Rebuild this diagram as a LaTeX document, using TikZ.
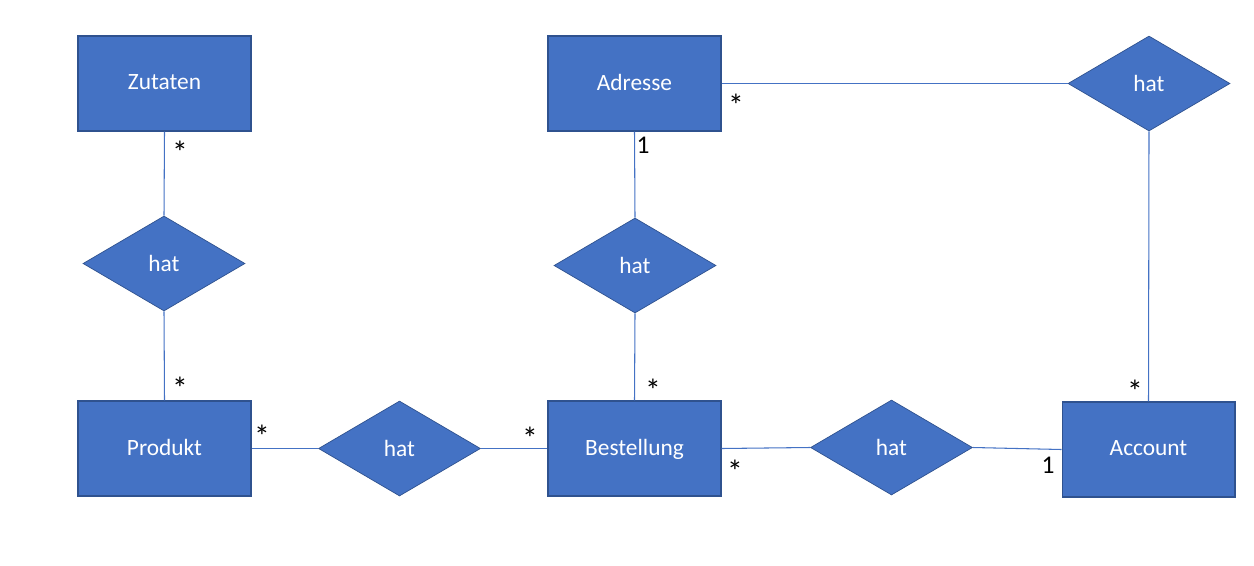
\documentclass[tikz,border=0pt]{standalone}
\usepackage{fontspec}
\setmainfont{Carlito}
\usepackage{xcolor}
\usetikzlibrary{shapes.geometric,positioning}
\definecolor{erblue}{HTML}{4472C4}
\definecolor{erborder}{HTML}{2F528F}
\tikzset{
  entity/.style={draw=erborder,fill=erblue,text=white,line width=0.6pt,minimum width=3.46cm,minimum height=1.9cm,inner sep=0pt,text depth=0.25ex,font=\fontsize{13.3}{15}\selectfont},
  relation/.style={diamond,draw=erborder,fill=erblue,text=white,line width=0.4pt,minimum width=3.24cm,minimum height=1.9cm,inner sep=0pt,font=\fontsize{13.3}{15}\selectfont},
  link/.style={draw=erblue,line width=0.6pt},
  mult/.style={inner sep=0pt,font=\fontsize{14.5}{16}\selectfont},
  star/.style={inner sep=0pt,yshift=-0.13cm,font=\fontsize{18}{20}\selectfont}
}
\begin{document}
\begin{tikzpicture}[x=0.02cm,y=-0.02cm]
\useasboundingbox (0,0) rectangle (1254,565);
% entities
\node[entity] (zutaten) at (164.5,83.5) {Zutaten};
\node[entity] (adresse) at (634.5,83.5) {Adresse};
\node[entity] (produkt) at (164.5,448.5) {Produkt};
\node[entity] (bestellung) at (634.5,448.5) {Bestellung};
\node[entity] (account) at (1148.5,449.5) {Account};
% relations
\node[relation] (hatzp) at (164,263.5) {hat};
\node[relation] (hatab) at (635,265.5) {hat};
\node[relation] (hatpb) at (399.5,448.5) {hat};
\node[relation] (hatba) at (891.5,447.5) {hat};
\node[relation] (hataa) at (1149,83.5) {hat};
% connectors
\draw[link] (zutaten.south) -- (hatzp.north);
\draw[link] (hatzp.south) -- (produkt.north);
\draw[link] (adresse.south) -- (hatab.north);
\draw[link] (hatab.south) -- (bestellung.north);
\draw[link] (produkt.east) -- (hatpb.west);
\draw[link] (hatpb.east) -- (bestellung.west);
\draw[link] (bestellung.east) -- (hatba.west);
\draw[link] (hatba.east) -- (account.west);
\draw[link] (adresse.east) -- (hataa.west);
\draw[link] (hataa.south) -- (account.north);
% multiplicities
\node[star] (m1) at (180,146) {*};
\node[star] (m2) at (180,382) {*};
\node[mult] (m3) at (643,145) {1};
\node[star] (m4) at (736,99) {*};
\node[star] (m5) at (653,384) {*};
\node[star] (m6) at (262,430) {*};
\node[star] (m7) at (530,432) {*};
\node[star] (m8) at (735,465) {*};
\node[mult] (m9) at (1048,465) {1};
\node[star] (m10) at (1135,385) {*};
\end{tikzpicture}
\end{document}
